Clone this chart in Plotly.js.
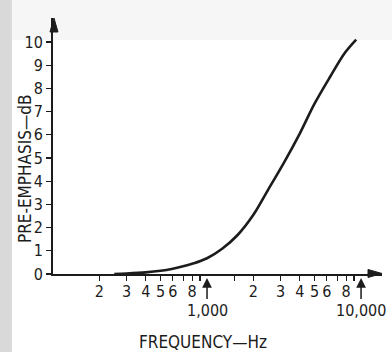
<!DOCTYPE html>
<html>
<head>
<meta charset="utf-8">
<script src="https://cdn.plot.ly/plotly-3.0.1.min.js"></script>
<style>
  html, body { margin: 0; padding: 0; background: #ffffff; }
  #chart { width: 392px; height: 352px; }
</style>
</head>
<body>
<div id="chart"></div>
<script>
// Pre-emphasis curve
const freqHz = [250, 300, 400, 500, 600, 700, 800, 1000, 1260, 1580, 2000, 2500, 3160, 4000, 5000, 6300, 7900, 9300];
const emphasisDb = [0.0, 0.02, 0.07, 0.14, 0.23, 0.33, 0.44, 0.68, 1.1, 1.68, 2.55, 3.65, 4.8, 6.05, 7.35, 8.5, 9.55, 10.1];

const xTickVals = [200, 300, 400, 500, 600, 700, 800, 900, 1500, 2000, 3000, 4000, 5000, 6000, 7000, 8000, 9000];
const xTickText = ["2", "3", "4", "5", "6", "", "8", "", "", "2", "3", "4", "5", "6", "", "8", ""];
const yTickVals = [0, 1, 2, 3, 4, 5, 6, 7, 8, 9, 10];
const yTickText = ["0", "1", "2", "3", "4", "5", "6", "7", "8", "9", "10"];
const decadeLabels = ["1,000", "10,000"];
const decadeValues = [1000, 10000];

const FONT = '"DejaVu Sans Condensed", "Liberation Sans Narrow", "Arial Narrow", sans-serif';
const INK = '#1c1c1c';

const trace = {
  x: freqHz, y: emphasisDb, type: 'scatter', mode: 'lines',
  line: { color: INK, width: 2.6, shape: 'spline', smoothing: 1 },
  hoverinfo: 'skip'
};

const annotations = decadeValues.map((v, i) => ({
  x: Math.log10(v), xref: 'x', y: -0.016, yref: 'paper',
  text: decadeLabels[i], showarrow: true, ax: 0, ay: 32,
  arrowhead: 2, arrowsize: 1.3, arrowwidth: 1.5, arrowcolor: INK, standoff: 0,
  font: { family: FONT, size: 16, color: INK }
}));
annotations.push({
  x: -0.085, y: 0.41, xref: 'paper', yref: 'paper', showarrow: false,
  xanchor: 'center', yanchor: 'middle',
  text: 'PRE-EMPHASIS\u2014dB', textangle: -90,
  font: { family: FONT, size: 17, color: INK }
});
annotations.push({
  x: 0.456, y: -0.266, xref: 'paper', yref: 'paper', showarrow: false,
  xanchor: 'center', yanchor: 'middle',
  text: 'FREQUENCY\u2014Hz',
  font: { family: FONT, size: 17, color: INK }
});

const shapes = [
  // scan background tones
  { type: 'rect', xref: 'paper', yref: 'paper', x0: -0.125, x1: 1.05, y0: 0.914, y1: 1.08,
    fillcolor: '#f6f6f6', line: { width: 0 }, layer: 'below' },
  { type: 'rect', xref: 'paper', yref: 'paper', x0: -0.17, x1: -0.125, y0: -0.31, y1: 1.08,
    fillcolor: '#d9d9d9', line: { width: 0 }, layer: 'below' },
  // axis arrowheads
  { type: 'path', xref: 'paper', yref: 'paper', xsizemode: 'pixel', ysizemode: 'pixel',
    xanchor: 0.003, yanchor: 1, path: 'M 0 0 L -4 -14 L 4 -14 Z',
    fillcolor: INK, line: { color: INK, width: 1 } },
  { type: 'path', xref: 'paper', yref: 'paper', xsizemode: 'pixel', ysizemode: 'pixel',
    xanchor: 1, yanchor: 0.002, path: 'M 0 0 L -14 4 L -14 -4 Z',
    fillcolor: INK, line: { color: INK, width: 1 } }
];

const layout = {
  width: 392, height: 352,
  margin: { l: 53, r: 10, t: 18, b: 78 },
  paper_bgcolor: '#ffffff', plot_bgcolor: 'rgba(0,0,0,0)',
  showlegend: false,
  font: { family: FONT, size: 16, color: INK },
  xaxis: {
    type: 'log', range: [2, 4.136], showgrid: false, zeroline: false,
    showline: true, linecolor: INK, linewidth: 2,
    ticks: 'outside', ticklen: 5, tickwidth: 1.2, tickcolor: INK,
    tickmode: 'array', tickvals: xTickVals, ticktext: xTickText,
    ticklabelstandoff: -3,
    tickfont: { family: FONT, size: 16, color: INK }
  },
  yaxis: {
    range: [0, 11.03], showgrid: false, zeroline: false,
    showline: true, linecolor: INK, linewidth: 2,
    ticks: 'outside', ticklen: 5, tickwidth: 1.2, tickcolor: INK,
    tickmode: 'array', tickvals: yTickVals, ticktext: yTickText,
    ticklabelstandoff: 0,
    tickfont: { family: FONT, size: 16, color: INK }
  },
  annotations: annotations,
  shapes: shapes
};

Plotly.newPlot('chart', [trace], layout, { staticPlot: true, displayModeBar: false });
</script>
</body>
</html>
